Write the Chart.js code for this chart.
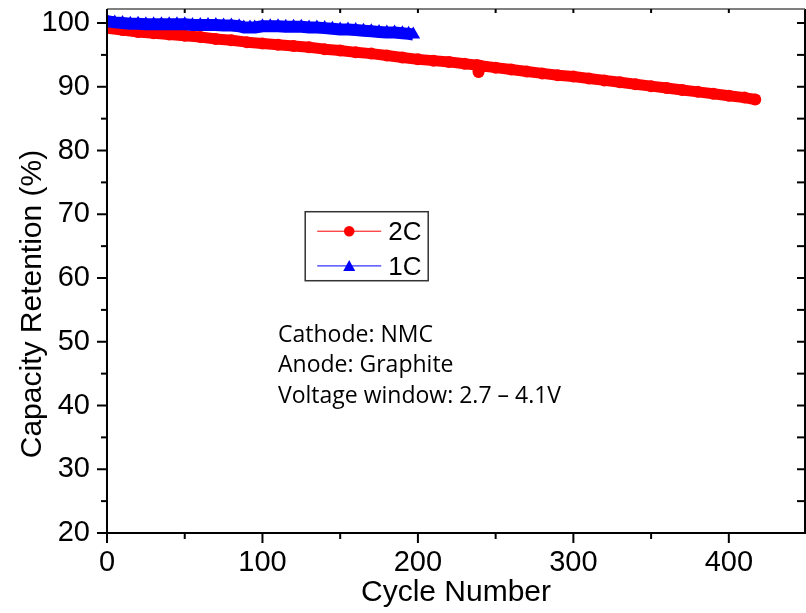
<!DOCTYPE html>
<html>
<head>
<meta charset="utf-8">
<script src="https://cdn.jsdelivr.net/npm/chart.js@4.4.0/dist/chart.umd.min.js"></script>
<style>
  html, body { margin: 0; padding: 0; background: #fff; }
  #wrap { width: 806px; height: 613px; }
</style>
</head>
<body>
<div id="wrap"><canvas id="retencion" width="806" height="613"></canvas></div>
<script>
// 2C (rojo)
const ciclos2C = [0, 10, 20, 30, 40, 50, 60, 70, 80, 90, 100, 110, 120, 130, 140, 150, 160, 170, 180, 190, 200,
                  210, 220, 230, 238, 239, 240, 250, 260, 270, 280, 290, 300, 310, 320, 330, 340, 350, 360, 370,
                  380, 390, 400, 410, 417];
const retencion2C = [99.2, 98.9, 98.6, 98.4, 98.2, 98.0, 97.8, 97.5, 97.3, 97.0, 96.8, 96.6, 96.4, 96.2, 95.9, 95.7,
                     95.4, 95.2, 94.9, 94.6, 94.3, 94.1, 93.9, 93.6, 93.4, 92.3, 93.3, 93.0, 92.7, 92.4, 92.1, 91.8,
                     91.6, 91.3, 91.0, 90.7, 90.4, 90.1, 89.8, 89.5, 89.2, 88.9, 88.6, 88.3, 88.0];

// 1C (azul)
const ciclos1C = [0, 5, 10, 15, 20, 25, 30, 35, 40, 45, 50, 55, 60, 65, 70, 75, 80, 85, 88, 92, 95, 100,
                  105, 110, 115, 120, 125, 130, 135, 140, 145, 150, 155, 160, 165, 170, 175, 180, 185, 190, 194, 197];
const retencion1C = [100.3, 100.1, 100.0, 99.9, 99.9, 99.8, 99.8, 99.8, 99.8, 99.8, 99.8, 99.7, 99.7, 99.7, 99.7,
                     99.6, 99.6, 99.5, 99.3, 99.3, 99.3, 99.5, 99.5, 99.5, 99.4, 99.4, 99.4, 99.3, 99.3, 99.2, 99.1,
                     99.0, 99.0, 98.9, 98.8, 98.7, 98.6, 98.5, 98.5, 98.4, 98.3, 98.2];

const ticksX = [0, 100, 200, 300, 400];
const ticksY = [20, 30, 40, 50, 60, 70, 80, 90, 100];
const notas = ['Cathode: NMC', 'Anode: Graphite', 'Voltage window: 2.7 \u2013 4.1V'];

const fuente = '"Liberation Sans", Arial, sans-serif';

const puntos = (xs, ys) => xs.map((c, i) => ({ x: c, y: ys[i] }));

// sin relleno automatico alrededor de los ejes
const sinRelleno = (s) => {
    s.paddingTop = 0;
    s.paddingBottom = 0;
    s.paddingLeft = 0;
    s.paddingRight = 0;
};

// marco, marcas, titulo Y, leyenda y notas
const decoracion = {
    id: 'decoracion',
    afterDatasetsDraw(chart) {
        const ctx = chart.ctx;
        const a = chart.chartArea;
        const x = chart.scales.x;
        const y = chart.scales.y;
        const linea = (x1, y1, x2, y2) => {
            ctx.beginPath();
            ctx.moveTo(x1, y1);
            ctx.lineTo(x2, y2);
            ctx.stroke();
        };

        ctx.save();
        ctx.strokeStyle = '#000';
        ctx.lineWidth = 2;
        linea(a.left, a.top, a.left, a.bottom + 1);
        linea(a.left - 1, a.bottom, a.right, a.bottom);
        linea(a.right, a.top, a.right, a.bottom + 1);
        ctx.strokeStyle = '#555';
        ctx.lineWidth = 1.5;
        linea(a.left, a.top, a.right, a.top);

        ctx.strokeStyle = '#000';
        ctx.lineWidth = 2;
        for (let v = 0; v <= x.max; v += 50) {
            const px = x.getPixelForValue(v);
            const largo = v % 100 === 0 ? 10 : 6;
            linea(px, a.bottom, px, a.bottom + largo);
            linea(px, a.top, px, a.top + 4);
        }
        for (let v = 20; v <= 100; v += 5) {
            const py = y.getPixelForValue(v);
            const largo = v % 10 === 0 ? 10 : 6;
            linea(a.left - largo, py, a.left, py);
            linea(a.right - 8, py, a.right, py);
        }

        // titulo del eje Y
        ctx.save();
        ctx.translate(33, 304);
        ctx.rotate(-Math.PI / 2);
        ctx.fillStyle = '#000';
        ctx.font = '30px ' + fuente;
        ctx.textAlign = 'center';
        ctx.textBaseline = 'middle';
        ctx.fillText('Capacity Retention (%)', 0, 0);
        ctx.restore();

        // leyenda
        const lx = x.getPixelForValue(127.5);
        const ly = y.getPixelForValue(70.4);
        ctx.strokeStyle = '#333';
        ctx.lineWidth = 1.5;
        ctx.strokeRect(lx, ly, 123, 69);
        const filas = [chart.data.datasets[0], chart.data.datasets[1]];
        filas.forEach((ds, i) => {
            const fy = ly + 19.5 + i * 34.7;
            ctx.strokeStyle = ds.borderColor;
            ctx.lineWidth = 1;
            linea(lx + 12, fy, lx + 76, fy);
            ctx.fillStyle = ds.borderColor;
            ctx.beginPath();
            if (ds.pointStyle === 'triangle') {
                ctx.moveTo(lx + 44, fy - 6);
                ctx.lineTo(lx + 50, fy + 5);
                ctx.lineTo(lx + 38, fy + 5);
                ctx.closePath();
            } else {
                ctx.arc(lx + 44, fy, 5.3, 0, Math.PI * 2);
            }
            ctx.fill();
            ctx.fillStyle = '#000';
            ctx.font = '26px ' + fuente;
            ctx.textAlign = 'left';
            ctx.textBaseline = 'alphabetic';
            ctx.fillText(ds.label, lx + 83, fy + 9.2);
        });

        // notas
        const nx = x.getPixelForValue(110);
        const ny = y.getPixelForValue(50);
        ctx.fillStyle = '#000';
        ctx.font = '23px "Open Sans", sans-serif';
        notas.forEach((t, i) => ctx.fillText(t, nx, ny + i * 30.5));
        ctx.restore();
    }
};

const ctx = document.getElementById('retencion').getContext('2d');

const grafica = new Chart(ctx, {
    type: 'line',
    data: {
        datasets: [{
            label: '2C',
            data: puntos(ciclos2C, retencion2C),
            borderColor: '#ff0000',
            backgroundColor: '#ff0000',
            borderWidth: 11,
            borderJoinStyle: 'round',
            borderCapStyle: 'round',
            pointStyle: 'circle',
            pointRadius: 6,
            pointBorderWidth: 0,
            tension: 0,
            clip: 0,
            order: 2
        }, {
            label: '1C',
            data: puntos(ciclos1C, retencion1C),
            borderColor: '#0000ff',
            backgroundColor: '#0000ff',
            borderWidth: 12,
            borderJoinStyle: 'round',
            pointStyle: 'triangle',
            pointRadius: 8,
            pointBorderWidth: 0,
            tension: 0,
            clip: 0,
            order: 1
        }]
    },
    options: {
        responsive: false,
        animation: false,
        layout: { autoPadding: false, padding: { top: 9, right: 1, left: 0, bottom: 0 } },
        plugins: {
            legend: { display: false },
            tooltip: { enabled: false }
        },
        scales: {
            x: {
                type: 'linear',
                min: 0,
                max: 449,
                grid: { display: false, drawTicks: false },
                border: { display: false },
                afterBuildTicks: (s) => { s.ticks = ticksX.map(v => ({ value: v })); },
                afterFit: (s) => { s.height = 80; sinRelleno(s); },
                ticks: { color: '#000', padding: 13, maxRotation: 0, font: { family: fuente, size: 29 } },
                title: {
                    display: true,
                    text: 'Cycle Number',
                    color: '#000',
                    padding: { top: 0, bottom: 2 },
                    font: { family: fuente, size: 30 }
                }
            },
            y: {
                min: 20,
                max: 102.2,
                grid: { display: false, drawTicks: false },
                border: { display: false },
                afterBuildTicks: (s) => { s.ticks = ticksY.map(v => ({ value: v })); },
                afterFit: (s) => { s.width = 107; sinRelleno(s); },
                ticks: { color: '#000', padding: 17, font: { family: fuente, size: 29 } }
            }
        }
    },
    plugins: [decoracion]
});
</script>
</body>
</html>
